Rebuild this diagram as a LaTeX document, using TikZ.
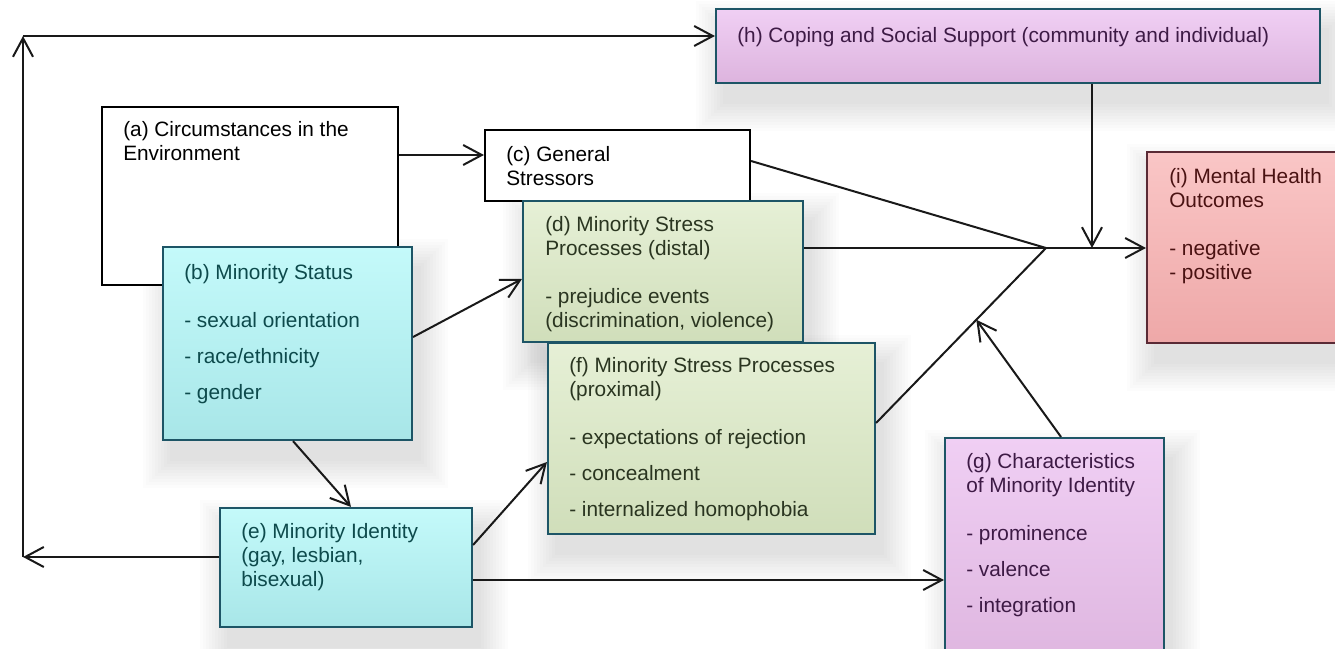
\documentclass[tikz,border=0pt]{standalone}
\usepackage{fontspec}
\setmainfont{Liberation Sans}
\usetikzlibrary{arrows.meta,fit,backgrounds,calc}
\definecolor{cyT}{HTML}{C4FAFA}
\definecolor{cyB}{HTML}{A8E6E8}
\definecolor{grT}{HTML}{E6F0D6}
\definecolor{grB}{HTML}{D0DEBA}
\definecolor{viT}{HTML}{F0CFF4}
\definecolor{viB}{HTML}{DDB4DE}
\definecolor{reT}{HTML}{FAC6C6}
\definecolor{reB}{HTML}{EEA8A8}
\definecolor{edge}{HTML}{1D5566}
\definecolor{redge}{HTML}{5A2A35}
\definecolor{cyText}{HTML}{0D4A4C}
\definecolor{grText}{HTML}{2A3520}
\definecolor{viText}{HTML}{3D1A45}
\definecolor{reText}{HTML}{4A1212}
\newcommand\softshade[1]{%
  \foreach \k in {0,...,9}{%
    \fill[black,opacity=0.013] ([shift={(8-3*\k,20-3*\k)}]#1.north west) rectangle ([shift={(8+3*\k,20+3*\k)}]#1.south east);
  }}
\begin{document}
\begin{tikzpicture}[x=0.75pt,y=-0.75pt,
  conn/.style={line width=1.5pt, draw=black!90},
  >={Straight Barb[length=14pt,width=15pt]},
  box/.style={draw, inner sep=0pt, line width=1.6pt},
  wbox/.style={box, draw=black, fill=white},
  cbox/.style={box, draw=edge, top color=cyT, bottom color=cyB},
  gbox/.style={box, draw=edge, top color=grT, bottom color=grB},
  vbox/.style={box, draw=edge, top color=viT, bottom color=viB},
  rbox/.style={box, draw=redge, top color=reT, bottom color=reB},
  lbl/.style={anchor=north west, inner sep=0pt, align=left, font=\fontsize{15.6}{18}\selectfont},
]
\useasboundingbox (0,0) rectangle (1335,649);
\clip (0,0) rectangle (1335,649);

% boxes
\node[wbox, fit={(102,107) (398,285)}] (a) {};
\node[wbox, fit={(485,130) (750,201)}] (c) {};
\node[cbox, fit={(163,247) (412,440)}] (b) {};
\node[gbox, fit={(523,201) (803,342)}] (d) {};
\node[gbox, fit={(548,343) (875,534)}] (f) {};
\node[cbox, fit={(220,508) (472,627)}] (e) {};
\node[vbox, fit={(945,438) (1164,680)}] (g) {};
\node[vbox, fit={(716,9) (1320,83)}] (h) {};
\node[rbox, fit={(1147,152) (1340,343)}] (i) {};

% texts
\node[lbl] (ta) at (123,121) {(a) Circumstances in the\\Environment};
\node[lbl, text=cyText] (tb) at (184,264) {(b) Minority Status\\[18pt]- sexual orientation\\[9pt]- race/ethnicity\\[9pt]- gender};
\node[lbl] (tc) at (506,146) {(c) General\\Stressors};
\node[lbl, text=grText] (td) at (545,216) {(d) Minority Stress\\Processes (distal)\\[18pt]- prejudice events\\(discrimination, violence)};
\node[lbl, text=cyText] (te) at (241,523) {(e) Minority Identity\\(gay, lesbian,\\bisexual)};
\node[lbl, text=grText] (tf) at (569,357) {(f) Minority Stress Processes\\(proximal)\\[18pt]- expectations of rejection\\[9pt]- concealment\\[9pt]- internalized homophobia};
\node[lbl, text=viText] (tg) at (966,453) {(g) Characteristics\\of Minority Identity\\[18pt]- prominence\\[9pt]- valence\\[9pt]- integration};
\node[lbl, text=viText] (th) at (737,27) {(h) Coping and Social Support (community and individual)};
\node[lbl, text=reText] (ti) at (1169,168) {(i) Mental Health\\Outcomes\\[18pt]- negative\\- positive};

% shadows
\begin{pgfonlayer}{background}
  \softshade{b}\softshade{d}\softshade{f}\softshade{e}\softshade{g}\softshade{h}\softshade{i}
\end{pgfonlayer}

% helper coordinates
\coordinate (TL) at (23,36);
\coordinate (BL) at (23,557);
\coordinate (J) at (1046,248);
\coordinate (K) at (1092,248);
\coordinate (fE) at (f.east |- 0,423);
\coordinate (G2) at ($(fE)!0.59!(J)$);

% connectors
\draw[conn,->] (e.west |- BL) -- (BL);
\draw[conn,->] (BL) -- (TL);
\draw[conn,->] (TL) -- (h.west |- TL);
\draw[conn,->] (a.east |- 0,155) -- (c.west |- 0,155);
\draw[conn] (c.east |- 0,161) -- (J);
\draw[conn] (d.east |- J) -- (J);
\draw[conn] (fE) -- (J);
\draw[conn,->] (J) -- (i.west |- J);
\draw[conn,->] (h.south -| K) -- (K);
\draw[conn,->] (g.north -| 1061,0) -- (G2);
\draw[conn,->] (b.east |- 0,337) -- (d.west |- 0,279);
\draw[conn,->] (b.south -| 293,0) -- (e.north -| 351,0);
\draw[conn,->] (e.east |- 0,545) -- (f.west |- 0,462);
\draw[conn,->] (e.east |- 0,580) -- (g.west |- 0,580);
\end{tikzpicture}
\end{document}
